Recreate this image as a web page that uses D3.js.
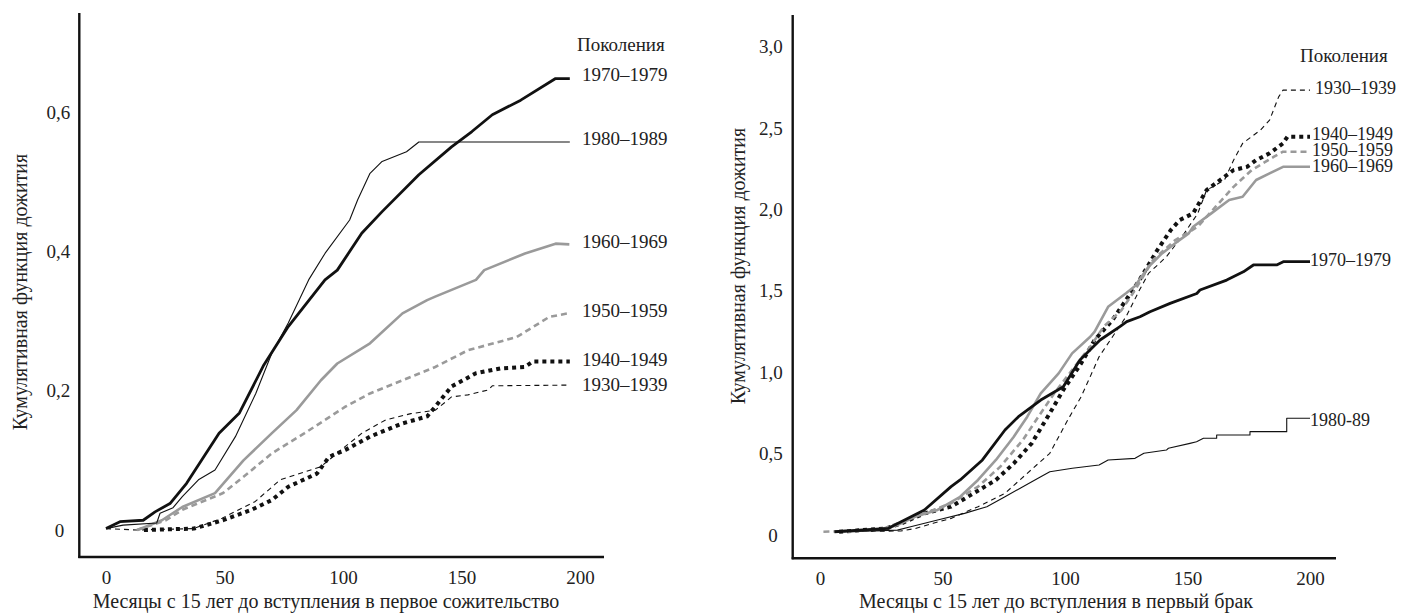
<!DOCTYPE html>
<html>
<head>
<meta charset="utf-8">
<script src="https://cdn.jsdelivr.net/npm/d3@7"></script>
<style>
  body { margin: 0; background: #fff; }
</style>
</head>
<body>
<div id="chart"></div>
<script>
// Cohort labels (same order in both panels)
const cohortsLeft = ['1970–1979', '1980–1989', '1960–1969', '1950–1959', '1940–1949', '1930–1939'];
const cohortsRight = ['1930–1939', '1940–1949', '1950–1959', '1960–1969', '1970–1979', '1980-89'];

// Left panel: months since age 15 until first cohabitation, [month, cumulative value]
const cohab1930 = [[0,0.002],[13,0],[37,0.002],[49,0.017],[63,0.041],[73.5,0.072],[90.7,0.091],[101,0.12],[108,0.139],[118,0.158],[128.6,0.167],[139,0.172],[145.8,0.191],[152.7,0.194],[161.3,0.201],[163,0.207],[195.7,0.208]];
const cohab1940 = [[16,0],[37,0.002],[49.4,0.014],[61.4,0.029],[70,0.043],[76.9,0.062],[89,0.081],[94.1,0.105],[101,0.115],[111.4,0.134],[125.1,0.153],[135.5,0.163],[138.9,0.177],[145.8,0.206],[156.1,0.225],[166.4,0.232],[176.8,0.234],[180.2,0.242],[195.7,0.242]];
const cohab1950 = [[13,0],[25.3,0.014],[32.2,0.029],[49.4,0.053],[59.7,0.081],[70,0.11],[83.8,0.139],[101,0.177],[111.4,0.196],[125.1,0.215],[138.9,0.234],[152.7,0.258],[173.3,0.277],[187.1,0.306],[195,0.311]];
const cohab1960 = [[13.3,0],[23.6,0.014],[32.2,0.033],[46,0.053],[58,0.1],[70,0.139],[80.4,0.172],[90.7,0.215],[97.6,0.239],[111.4,0.268],[125.1,0.311],[135.5,0.33],[138.9,0.335],[156.1,0.359],[159.6,0.373],[176.8,0.397],[189.7,0.411],[195.5,0.41]];
const cohab1970 = [[0,0.002],[5.9,0.012],[15.7,0.014],[20.7,0.026],[27,0.038],[34,0.067],[47.7,0.139],[56.3,0.168],[66.6,0.237],[76.9,0.292],[92.4,0.359],[97.6,0.373],[107.9,0.426],[116.5,0.457],[132,0.51],[145.8,0.55],[154.4,0.572],[163,0.596],[175,0.617],[189.7,0.648],[195.7,0.648]];
const cohab1980 = [[0,0.002],[7.2,0.007],[21.4,0.01],[22.8,0.024],[28.3,0.032],[32.2,0.048],[39,0.072],[46,0.086],[54.6,0.134],[63.2,0.196],[70,0.254],[76.9,0.297],[85.5,0.359],[92.4,0.397],[102.8,0.445],[106.2,0.474],[111.4,0.512],[116.5,0.529],[126.8,0.543],[132,0.557],[195.7,0.557]];

// Right panel: months since age 15 until first marriage
const marr1930 = [[6,0.02],[33,0.025],[38.9,0.04],[46.2,0.072],[53.5,0.102],[64.5,0.174],[75.5,0.256],[84.6,0.379],[93.8,0.502],[101.1,0.706],[106.6,0.85],[110.3,0.973],[113.9,1.095],[119.4,1.218],[124.9,1.341],[130.4,1.505],[134.1,1.607],[141.4,1.71],[148.7,1.853],[154.2,1.976],[157.8,2.119],[165.1,2.181],[168.8,2.303],[172.5,2.406],[179.8,2.488],[183.5,2.549],[187.2,2.692],[189,2.733],[200,2.733]];
const marr1940 = [[7.8,0.02],[27,0.04],[33,0.07],[42.6,0.133],[53.5,0.174],[62.7,0.256],[71.8,0.338],[79.1,0.44],[86.4,0.563],[93.8,0.748],[99.3,0.891],[106.6,1.055],[112.1,1.198],[119.4,1.321],[124.9,1.444],[130.4,1.566],[137.7,1.751],[143.2,1.874],[146.8,1.935],[152.3,1.976],[157.8,2.119],[163.3,2.181],[168.8,2.242],[174.3,2.262],[178,2.303],[183.5,2.345],[189,2.406],[190.8,2.447],[200,2.447]];
const marr1950 = [[1.4,0.02],[24.3,0.03],[42.6,0.133],[53.5,0.195],[64.5,0.297],[73.6,0.42],[82.8,0.584],[90.1,0.748],[95.6,0.87],[102.9,1.014],[110.3,1.157],[115.8,1.28],[123.1,1.382],[128.6,1.505],[135.9,1.689],[145,1.812],[154.2,1.894],[161.5,2.017],[168.8,2.139],[176.2,2.242],[185.3,2.324],[189,2.355],[200,2.355]];
const marr1960 = [[11.5,0.02],[27,0.04],[31.6,0.061],[38.9,0.113],[48,0.154],[57.2,0.235],[64.5,0.338],[71.8,0.461],[79.1,0.604],[84.6,0.727],[90.1,0.87],[97.4,0.993],[102.9,1.116],[110.3,1.218],[112.1,1.249],[117.6,1.402],[124.9,1.485],[128.6,1.53],[134.1,1.648],[139.6,1.73],[145,1.792],[150.5,1.853],[152.3,1.894],[159.7,1.976],[167,2.058],[172.5,2.078],[178,2.181],[183.5,2.222],[189,2.262],[200,2.262]];
const marr1970 = [[5.9,0.02],[27.9,0.041],[42.6,0.154],[53.5,0.297],[57.2,0.338],[66.3,0.461],[75.5,0.645],[81,0.727],[90.1,0.829],[99.3,0.911],[106.1,1.075],[114.3,1.198],[122.4,1.28],[125.2,1.311],[130.6,1.341],[134.7,1.372],[142.9,1.423],[153.8,1.484],[155.1,1.505],[166,1.566],[172.8,1.617],[176.9,1.659],[186.4,1.659],[189.1,1.679],[200,1.679]];
const marr1980 = [[8,0.02],[31.6,0.03],[37,0.051],[48,0.092],[59,0.133],[68.1,0.174],[75.5,0.235],[82.8,0.297],[90.1,0.358],[93.8,0.389],[103,0.41],[113.9,0.43],[117.6,0.461],[128.6,0.471],[132.2,0.502],[141.4,0.522],[142.2,0.533],[151,0.563],[153.7,0.573],[156.5,0.594],[161.9,0.594],[161.9,0.614],[175.5,0.614],[175.5,0.635],[190.5,0.635],[190.5,0.717],[200,0.717]];

const xTicks = [0, 50, 100, 150, 200];
const yTicksLeft = [0, 0.2, 0.4, 0.6];
const yTicksRight = [0, 0.5, 1.0, 1.5, 2.0, 2.5, 3.0];

const FONT = '"Liberation Serif", "DejaVu Serif", "Times New Roman", serif';

// Line styles per cohort
const styles = {
  '1930': { stroke: '#111', width: 1.1, dash: '5,4' },
  '1940': { stroke: '#111', width: 4, dash: '4,4' },
  '1950': { stroke: '#9a9a9a', width: 2.6, dash: '6,4' },
  '1960': { stroke: '#9a9a9a', width: 2.6, dash: null },
  '1970': { stroke: '#111', width: 2.8, dash: null },
  '1980': { stroke: '#111', width: 1.1, dash: null }
};

const svg = d3.select('#chart').append('svg')
    .attr('width', 1403)
    .attr('height', 613)
    .attr('font-family', FONT);

const fmt = (d) => d === 0 ? '0' : d3.format('.1f')(d).replace('.', ',');

const addText = (g, txt, size) => g.append('text')
    .attr('font-family', FONT)
    .attr('font-size', size)
    .attr('fill', '#222')
    .text(txt);

const drawPanel = (p) => {
  const x = d3.scaleLinear().domain([0, 200]).range(p.xRange);
  const y = d3.scaleLinear().domain(p.yDomain).range(p.yRange);
  const g = svg.append('g');

  // Axis frame lines
  g.append('line')
      .attr('x1', p.axisX).attr('x2', p.axisX)
      .attr('y1', p.axisTop).attr('y2', p.axisY + 1)
      .attr('stroke', '#111').attr('stroke-width', 2.4);
  g.append('line')
      .attr('x1', p.axisX - 1).attr('x2', p.axisRight)
      .attr('y1', p.axisY).attr('y2', p.axisY)
      .attr('stroke', '#111').attr('stroke-width', 2.4);

  // Tick labels
  const yAxis = g.append('g')
      .attr('transform', 'translate(' + p.axisX + ',0)')
      .call(d3.axisLeft(y).tickValues(p.yTicks).tickSize(0).tickPadding(p.yPad).tickFormat(fmt));
  yAxis.attr('font-family', FONT).attr('font-size', 19);
  yAxis.select('.domain').remove();
  yAxis.selectAll('text')
      .attr('fill', '#222')
      .attr('dx', (d) => d === 0 ? -p.zeroShift : 0);

  const xAxis = g.append('g')
      .attr('transform', 'translate(0,' + p.axisY + ')')
      .call(d3.axisBottom(x).tickValues(xTicks).tickSize(0).tickPadding(p.xPad).tickFormat(d3.format('d')));
  xAxis.attr('font-family', FONT).attr('font-size', 19);
  xAxis.select('.domain').remove();
  xAxis.selectAll('text').attr('fill', '#222');

  // Axis titles
  addText(g, p.xTitleText, 20)
      .attr('x', p.xTitle[0]).attr('y', p.xTitle[1])
      .attr('text-anchor', 'middle')
      .attr('dominant-baseline', 'middle');
  addText(g, 'Кумулятивная функция дожития', 20)
      .attr('transform', 'translate(' + p.yTitle[0] + ',' + p.yTitle[1] + ') rotate(-90)')
      .attr('text-anchor', 'middle')
      .attr('dominant-baseline', 'middle');

  // Lines
  const line = d3.line().x((d) => x(d[0])).y((d) => y(d[1]));
  p.series.forEach((s) => {
    const st = styles[s.key];
    g.append('path')
        .datum(s.data)
        .attr('fill', 'none')
        .attr('stroke', st.stroke)
        .attr('stroke-width', st.width)
        .attr('stroke-dasharray', st.dash)
        .attr('stroke-linejoin', 'round')
        .attr('d', line);
  });

  // Legend labels
  addText(g, 'Поколения', 19)
      .attr('x', p.legendTitle[0]).attr('y', p.legendTitle[1])
      .attr('dominant-baseline', 'middle');
  p.labels.forEach((l, i) => {
    addText(g, p.cohorts[i], p.labelSize)
        .attr('x', l[0]).attr('y', l[1])
        .attr('dominant-baseline', 'middle');
  });
};

drawPanel({
  xRange: [106, 580], yDomain: [0, 0.6], yRange: [530, 112],
  axisX: 79.3, axisY: 557, axisTop: 13, axisRight: 604,
  yTicks: yTicksLeft, yPad: 9, xPad: 14, zeroShift: 6,
  xTitle: [326, 603], xTitleText: 'Месяцы с 15 лет до вступления в первое сожительство',
  yTitle: [22, 292],
  series: [
    { key: '1930', data: cohab1930 },
    { key: '1940', data: cohab1940 },
    { key: '1950', data: cohab1950 },
    { key: '1960', data: cohab1960 },
    { key: '1980', data: cohab1980 },
    { key: '1970', data: cohab1970 }
  ],
  legendTitle: [577, 47],
  cohorts: cohortsLeft,
  labelSize: 19,
  labels: [[582, 77], [582, 141], [582, 244], [582, 313], [582, 362], [582, 387]]
});

drawPanel({
  xRange: [820, 1310], yDomain: [0, 3], yRange: [535, 46.7],
  axisX: 792.7, axisY: 558.3, axisTop: 15, axisRight: 1336,
  yTicks: yTicksRight, yPad: 10, xPad: 13, zeroShift: 5,
  xTitle: [1056, 603], xTitleText: 'Месяцы с 15 лет до вступления в первый брак',
  yTitle: [740, 266],
  series: [
    { key: '1930', data: marr1930 },
    { key: '1940', data: marr1940 },
    { key: '1950', data: marr1950 },
    { key: '1960', data: marr1960 },
    { key: '1980', data: marr1980 },
    { key: '1970', data: marr1970 }
  ],
  legendTitle: [1300, 58],
  cohorts: cohortsRight,
  labelSize: 18,
  labels: [[1315, 90], [1312, 136], [1312, 152], [1312, 168], [1310, 262], [1310, 422]]
});
</script>
</body>
</html>
